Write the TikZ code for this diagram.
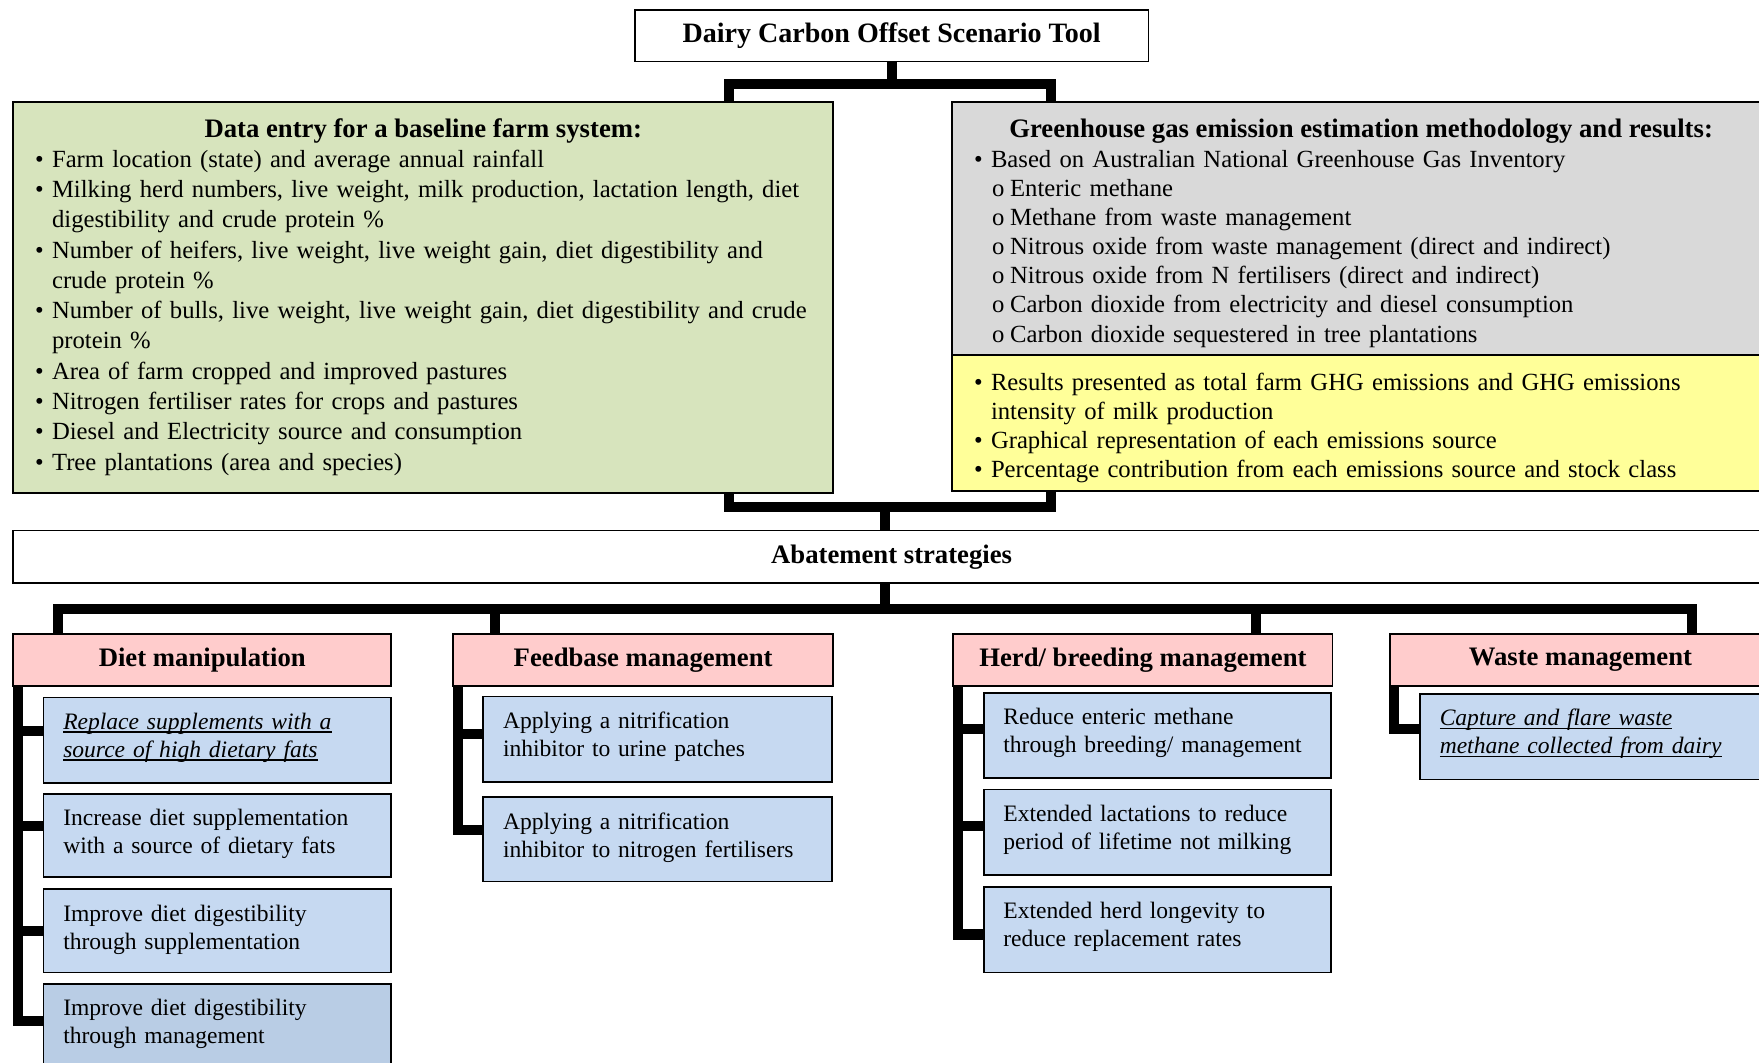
\documentclass[tikz,border=0pt]{standalone}
\usepackage{fontspec}
\setmainfont{Liberation Serif}
\usetikzlibrary{calc}
\definecolor{dgreen}{HTML}{D7E4BD}
\definecolor{lgray}{HTML}{D9D9D9}
\definecolor{lyellow}{HTML}{FFFF99}
\definecolor{lpink}{HTML}{FFCCCC}
\definecolor{lblue}{HTML}{C6D9F1}
\definecolor{mblue}{HTML}{B9CDE5}
\newcommand{\bul}[1]{\hangindent=7.5pt\hangafter=1\noindent\makebox[7.5pt][l]{\textbullet}#1\par}
\newcommand{\subit}[1]{\noindent\hspace*{8pt}\makebox[8pt][l]{o}#1\par}
\newlength{\ulwd}
\newcommand{\myul}[1]{\settowidth{\ulwd}{#1}\makebox[0pt][l]{\rule[-1.5pt]{\ulwd}{0.5pt}}#1}
\newcommand{\dn}[1]{\raisebox{-1.2pt}{#1}}
\tikzset{
  bx/.style={draw=black, line width=0.8pt, anchor=north west, inner sep=0pt},
  conn/.style={line width=4.5pt, draw=black, line join=miter},
  hdfont/.style={font=\fontsize{11.9}{14}\selectfont\bfseries},
  hdtxt/.style={hdfont, inner sep=0pt, anchor=base},
  listtxt/.style={inner sep=0pt, anchor=base west, text width=#1},
  subtxt/.style={font=\fontsize{10.5}{12.5}\selectfont, inner sep=0pt, anchor=base west, text width=160pt},
}
\begin{document}
\begin{tikzpicture}[x=0.5pt, y=-0.5pt]
\useasboundingbox (0,0) rectangle (1568,947);
\clip (0,0) rectangle (1568,947);

% ---------- top boxes
\node[bx, fill=white, minimum width=229pt, minimum height=23pt, font=\fontsize{12.5}{14}\selectfont\bfseries] (title) at (565,8) {\dn{Dairy Carbon Offset Scenario Tool}};

\node[bx, fill=dgreen, minimum width=365.5pt, minimum height=174.5pt] (green) at (11,90) {};
\node[hdtxt] (greenhead) at ($(green.north)+(0,33)$) {Data entry for a baseline farm system:};
\node[listtxt=380pt, font=\fontsize{11}{13.5}\selectfont] (greenlist) at (31,149) {%
\bul{Farm location (state) and average annual rainfall}%
\bul{Milking herd numbers, live weight, milk production, lactation length, diet\newline digestibility and crude protein \%}%
\bul{Number of heifers, live weight, live weight gain, diet digestibility and\newline crude protein \%}%
\bul{Number of bulls, live weight, live weight gain, diet digestibility and crude\newline protein \%}%
\bul{Area of farm cropped and improved pastures}%
\bul{Nitrogen fertiliser rates for crops and pastures}%
\bul{Diesel and Electricity source and consumption}%
\bul{Tree plantations (area and species)}};

\node[bx, fill=lgray, minimum width=364.5pt, minimum height=113pt] (gray) at (848,90) {};
\node[hdtxt] (grayhead) at ($(gray.north)+(0,33)$) {Greenhouse gas emission estimation methodology and results:};
\node[listtxt=340pt, font=\fontsize{11}{13}\selectfont] (graylist) at (868,149) {%
\bul{Based on Australian National Greenhouse Gas Inventory}%
\subit{Enteric methane}%
\subit{Methane from waste management}%
\subit{Nitrous oxide from waste management (direct and indirect)}%
\subit{Nitrous oxide from N fertilisers (direct and indirect)}%
\subit{Carbon dioxide from electricity and diesel consumption}%
\subit{Carbon dioxide sequestered in tree plantations}};

\node[bx, fill=lyellow, minimum width=364.5pt, minimum height=60.5pt] (yellow) at (848,316) {};
\node[listtxt=340pt, font=\fontsize{11}{13}\selectfont] (yellowlist) at (868,348) {%
\bul{Results presented as total farm GHG emissions and GHG emissions\newline intensity of milk production}%
\bul{Graphical representation of each emissions source}%
\bul{Percentage contribution from each emissions source and stock class}};

% ---------- abatement
\node[bx, fill=white, minimum width=783pt, minimum height=23.5pt, hdfont] (abate) at (11,472) {\dn{Abatement strategies}};

% ---------- categories
\node[bx, fill=lpink, minimum width=168.5pt, minimum height=23.5pt, hdfont] (diet) at (11,564) {\dn{Diet manipulation}};
\node[bx, fill=lpink, minimum width=169.5pt, minimum height=23.5pt, hdfont] (feed) at (403,564) {\dn{Feedbase management}};
\node[bx, fill=lpink, minimum width=169pt, minimum height=23.5pt, hdfont] (herd) at (849,564) {\dn{Herd/ breeding management}};
\node[bx, fill=lpink, minimum width=170pt, minimum height=23.5pt, hdfont] (waste) at (1238,564) {\dn{Waste management}};

% ---------- sub boxes
\node[bx, fill=lblue, minimum width=155pt, minimum height=38pt] (d1) at (38,621) {};
\node[bx, fill=lblue, minimum width=155pt, minimum height=37pt] (d2) at (38,707) {};
\node[bx, fill=lblue, minimum width=155pt, minimum height=37pt] (d3) at (38,792) {};
\node[bx, fill=mblue, minimum width=155pt, minimum height=45pt] (d4) at (38,876) {};
\node[bx, fill=lblue, minimum width=155.5pt, minimum height=38pt] (f1) at (430,620) {};
\node[bx, fill=lblue, minimum width=155.5pt, minimum height=37.5pt] (f2) at (430,710) {};
\node[bx, fill=lblue, minimum width=155pt, minimum height=38pt] (h1) at (876,617) {};
\node[bx, fill=lblue, minimum width=155pt, minimum height=38pt] (h2) at (876,703) {};
\node[bx, fill=lblue, minimum width=155pt, minimum height=38pt] (h3) at (876,790) {};
\node[bx, fill=lblue, minimum width=167.5pt, minimum height=38pt] (w1) at (1265,618) {};

\node[subtxt] (d1t) at ($(d1.north west)+(18,29)$) {\myul{\textit{Replace supplements with a}}\newline\myul{\textit{source of high dietary fats}}};
\node[subtxt] (d2t) at ($(d2.north west)+(18,29)$) {Increase diet supplementation\newline with a source of dietary fats};
\node[subtxt] (d3t) at ($(d3.north west)+(18,29)$) {Improve diet digestibility\newline through supplementation};
\node[subtxt] (d4t) at ($(d4.north west)+(18,29)$) {Improve diet digestibility\newline through management};
\node[subtxt] (f1t) at ($(f1.north west)+(18,29)$) {Applying a nitrification\newline inhibitor to urine patches};
\node[subtxt] (f2t) at ($(f2.north west)+(18,29)$) {Applying a nitrification\newline inhibitor to nitrogen fertilisers};
\node[subtxt] (h1t) at ($(h1.north west)+(18,29)$) {Reduce enteric methane\newline through breeding/ management};
\node[subtxt] (h2t) at ($(h2.north west)+(18,29)$) {Extended lactations to reduce\newline period of lifetime not milking};
\node[subtxt] (h3t) at ($(h3.north west)+(18,29)$) {Extended herd longevity to\newline reduce replacement rates};
\node[subtxt] (w1t) at ($(w1.north west)+(18,29)$) {\myul{\textit{Capture and flare waste}}\newline\myul{\textit{methane collected from dairy}}};

% ---------- connectors top
\coordinate (gL) at (650,75);
\coordinate (gR) at (937,75);
\draw[conn] (title.south) -- (title.south |- gL);
\draw[conn] (green.north -| gL) -- (gL) -- (gR) -- (gray.north -| gR);

\coordinate (mL) at (650,452);
\coordinate (mR) at (937,452);
\coordinate (mS) at (789,452);
\draw[conn] (green.south -| mL) -- (mL) -- (mR) -- (yellow.south -| mR);
\draw[conn] (mS) -- (abate.north -| mS);

% ---------- connectors to categories
\coordinate (lS) at (789,543);
\coordinate (lL) at (52,543);
\coordinate (lR) at (1508,543);
\coordinate (lF) at (441,543);
\coordinate (lH) at (1120,543);
\draw[conn] (abate.south -| lS) -- (lS);
\draw[conn] (diet.north -| lL) -- (lL) -- (lR) -- (waste.north -| lR);
\draw[conn] (lF) -- (feed.north -| lF);
\draw[conn] (lH) -- (herd.north -| lH);

% ---------- spines
\coordinate (dS) at (16,910);
\coordinate (dt1) at (16,652);
\coordinate (dt2) at (16,736);
\coordinate (dt3) at (16,830);
\draw[conn] (diet.south -| dS) -- (dS) -- (d4.west |- dS);
\draw[conn] (dt1) -- (d1.west |- dt1);
\draw[conn] (dt2) -- (d2.west |- dt2);
\draw[conn] (dt3) -- (d3.west |- dt3);

\coordinate (fS) at (408,740);
\coordinate (ft1) at (408,654);
\draw[conn] (feed.south -| fS) -- (fS) -- (f2.west |- fS);
\draw[conn] (ft1) -- (f1.west |- ft1);

\coordinate (hS) at (854,833);
\coordinate (ht1) at (854,650);
\coordinate (ht2) at (854,736);
\draw[conn] (herd.south -| hS) -- (hS) -- (h3.west |- hS);
\draw[conn] (ht1) -- (h1.west |- ht1);
\draw[conn] (ht2) -- (h2.west |- ht2);

\coordinate (wS) at (1243,650);
\draw[conn] (waste.south -| wS) -- (wS) -- (w1.west |- wS);
\end{tikzpicture}
\end{document}
